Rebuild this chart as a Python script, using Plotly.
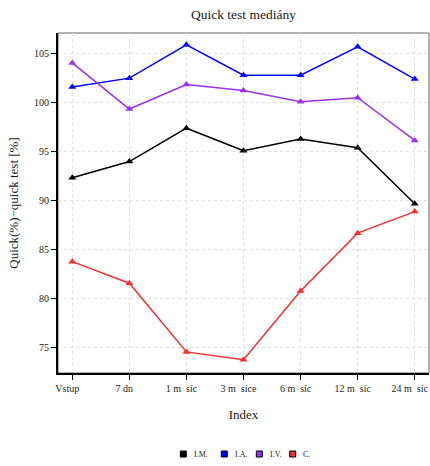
import plotly.graph_objects as go

categories = ["Vstup", "7 dn", "1 m\u00a0 síc", "3 m\u00a0 síce", "6 m\u00a0 síc", "12 m\u00a0 síc", "24 m\u00a0 síc"]
series_names = ["I.M.", "I.A.", "I.V.", "C."]
im_values = [92.35, 94.0, 97.4, 95.1, 96.3, 95.4, 89.7]
ia_values = [101.6, 102.5, 105.9, 102.8, 102.8, 105.7, 102.4]
iv_values = [104.05, 99.35, 101.85, 101.25, 100.1, 100.5, 96.15]
c_values = [83.8, 81.6, 74.6, 73.8, 80.8, 86.7, 88.9]
colors = ["#000000", "#0000ff", "#9b30ee", "#f03030"]

W, H = 430, 466
L, R, T, B = 58, 1, 33, 93

fig = go.Figure()
xs = list(range(len(categories)))
for name, vals, col in zip(series_names, [im_values, ia_values, iv_values, c_values], colors):
    fig.add_trace(go.Scatter(x=xs, y=vals, mode="lines+markers", name=name,
                             line=dict(color=col, width=1.5),
                             marker=dict(symbol="triangle-up", size=7, color=col),
                             showlegend=False))

font = "Liberation Serif, Times New Roman, serif"
txtcol = "#1a1a1a"

# manual legend (squares + labels) in paper coordinates
pw, ph = W - L - R, H - T - B
leg_sq_x = [183.3, 224.3, 259.3, 292.7]
leg_y = 454
shapes = [dict(type="rect", xref="paper", yref="paper", x0=0, x1=1, y0=0, y1=1,
               line=dict(color="#666666", width=1), layer="below")]
annotations = []
for name, col, sx in zip(series_names, colors, leg_sq_x):
    x0 = (sx - 3 - L) / pw
    x1 = (sx + 3 - L) / pw
    y0 = (H - B - (leg_y + 3)) / ph
    y1 = (H - B - (leg_y - 3)) / ph
    shapes.append(dict(type="rect", xref="paper", yref="paper", x0=x0, x1=x1, y0=y0, y1=y1,
                       fillcolor=col, line=dict(color="#000000", width=1)))
    annotations.append(dict(text=name, xref="paper", yref="paper",
                            x=(sx + 8.5 - L) / pw, y=(H - B - leg_y) / ph,
                            xanchor="left", yanchor="middle", showarrow=False,
                            font=dict(family=font, size=8, color=txtcol)))

fig.update_layout(
    width=W, height=H,
    margin=dict(l=L, r=R, t=T, b=B),
    paper_bgcolor="white", plot_bgcolor="white",
    font=dict(family=font, size=10, color=txtcol),
    title=dict(text="Quick test mediány", x=0.5, xref="paper", xanchor="center",
               y=1 - 14 / H, yanchor="middle",
               font=dict(family=font, size=13.5, color=txtcol)),
    showlegend=False,
    shapes=shapes,
    annotations=annotations,
)
fig.update_xaxes(range=[-0.25, 6.25], tickmode="array", tickvals=xs, ticktext=categories,
                 showgrid=True, gridcolor="#e0e0e0", griddash="dot", gridwidth=1,
                 showline=True, linecolor="#000000", linewidth=2,
                 ticks="outside", ticklen=5, tickcolor="#000000", tickwidth=1,
                 zeroline=False, automargin=False, ticklabeloverflow="allow",
                 ticklabelshift=-5,
                 title=dict(text="Index", font=dict(family=font, size=13, color=txtcol), standoff=17))
fig.update_yaxes(range=[72.45, 107.1], tickvals=[75, 80, 85, 90, 95, 100, 105],
                 showgrid=True, gridcolor="#e0e0e0", griddash="dot", gridwidth=1,
                 showline=True, linecolor="#000000", linewidth=2,
                 ticks="outside", ticklen=5, tickcolor="#000000", tickwidth=1,
                 zeroline=False, automargin=False,
                 title=dict(text="Quick(%)−quick test [%]", font=dict(family=font, size=13, color=txtcol), standoff=12))

fig.write_html("out.html", config={"displayModeBar": False},
               post_script="document.body.style.margin='0';document.body.style.overflow='hidden';")
